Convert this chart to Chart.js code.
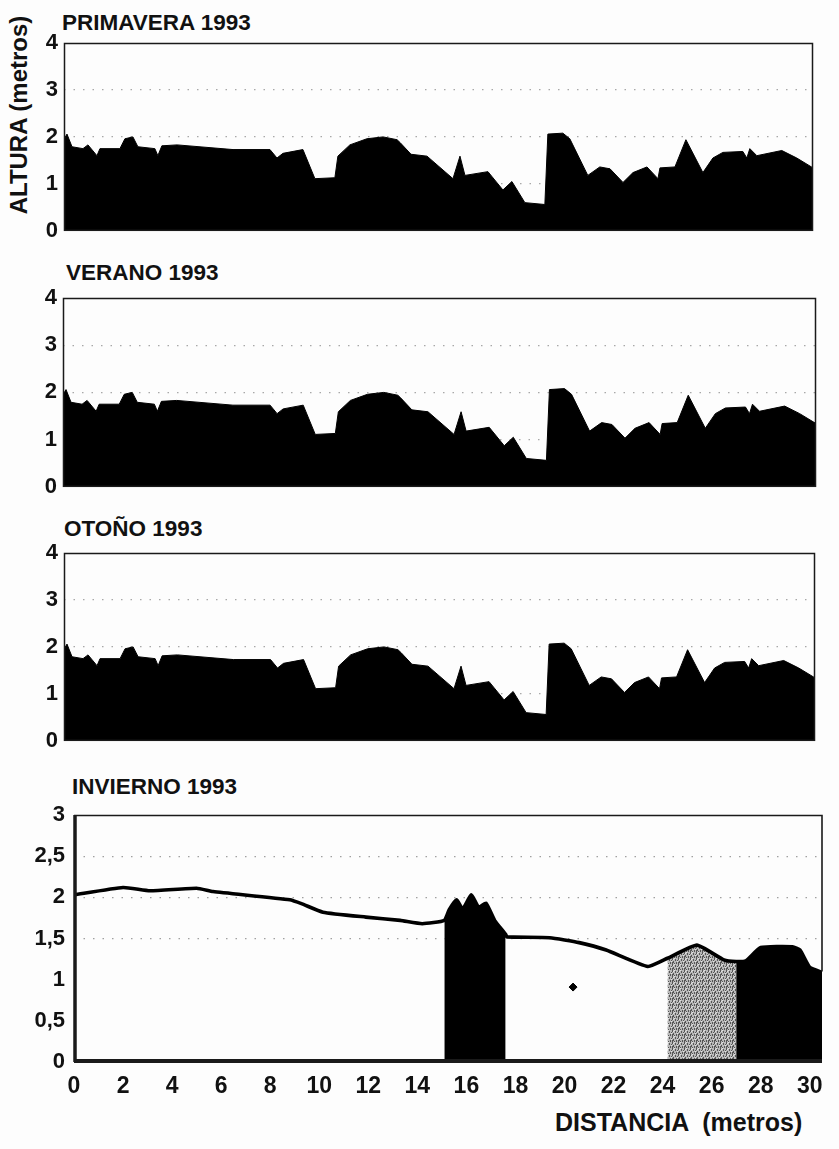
<!DOCTYPE html>
<html><head><meta charset="utf-8">
<script src="https://cdn.jsdelivr.net/npm/chart.js@4/dist/chart.umd.min.js"></script>
<style>
html,body{margin:0;padding:0;background:#fff;}
#root{position:relative;width:839px;height:1149px;overflow:hidden;font-family:"Liberation Sans",Arial,sans-serif;font-weight:bold;color:#111;background:#fdfdfd;}
.t{position:absolute;font-size:22.5px;line-height:1;white-space:pre;}
canvas{position:absolute;left:0;}
</style></head><body>
<div id="root">
  <div class="t" style="left:62px;top:12px">PRIMAVERA 1993</div>
  <div class="t" style="left:66px;top:262px">VERANO 1993</div>
  <div class="t" style="left:64px;top:518px">OTOÑO 1993</div>
  <div class="t" style="left:72px;top:776px">INVIERNO 1993</div>
  <div class="t" style="left:-111px;top:103px;width:260px;text-align:center;font-size:24px;transform:rotate(-90deg);">ALTURA (metros)</div>
  <div class="t" style="left:555px;top:1110px;font-size:25px;">DISTANCIA  (metros)</div>
  <canvas id="c1" width="839" height="250" style="top:0px"></canvas>
  <canvas id="c2" width="839" height="256" style="top:250px"></canvas>
  <canvas id="c3" width="839" height="254" style="top:506px"></canvas>
  <canvas id="c4" width="839" height="389" style="top:760px"></canvas>
</div>
<script>
// ---- datos ----
const distanciaPerfil = [0,0.12,0.32,0.76,0.96,1.32,1.44,2.24,2.44,2.76,2.96,3.64,3.76,3.92,4.53,6.77,8.25,8.53,8.77,9.57,10.05,10.85,10.97,11.45,12.13,12.78,13.34,13.46,13.9,14.54,15.58,15.86,16.06,16.98,17.58,17.94,18.46,19.26,19.38,19.98,20.26,20.98,21.46,21.87,22.39,22.79,23.35,23.79,23.87,24.47,24.91,25.59,25.99,26.39,27.19,27.35,27.47,27.75,28.75,29.35,30.0];
const alturaPrimavera = [1.95,2.06,1.79,1.75,1.83,1.60,1.75,1.75,1.96,2.00,1.79,1.75,1.60,1.81,1.83,1.73,1.73,1.55,1.65,1.73,1.11,1.13,1.59,1.83,1.96,2.00,1.94,1.88,1.63,1.59,1.11,1.59,1.18,1.26,0.87,1.05,0.60,0.56,2.06,2.08,1.96,1.18,1.36,1.32,1.03,1.24,1.36,1.11,1.34,1.36,1.94,1.24,1.55,1.67,1.69,1.55,1.75,1.60,1.71,1.55,1.34];
const alturaVerano    = [1.95,2.06,1.79,1.75,1.83,1.60,1.75,1.75,1.96,2.00,1.79,1.75,1.60,1.81,1.83,1.73,1.73,1.55,1.65,1.73,1.11,1.13,1.59,1.83,1.96,2.00,1.94,1.88,1.63,1.59,1.11,1.59,1.18,1.26,0.87,1.05,0.60,0.56,2.06,2.08,1.96,1.18,1.36,1.32,1.03,1.24,1.36,1.11,1.34,1.36,1.94,1.24,1.55,1.67,1.69,1.55,1.75,1.60,1.71,1.55,1.34];
const alturaOtono     = [1.95,2.06,1.79,1.75,1.83,1.60,1.75,1.75,1.96,2.00,1.79,1.75,1.60,1.81,1.83,1.73,1.73,1.55,1.65,1.73,1.11,1.13,1.59,1.83,1.96,2.00,1.94,1.88,1.63,1.59,1.11,1.59,1.18,1.26,0.87,1.05,0.60,0.56,2.06,2.08,1.96,1.18,1.36,1.32,1.03,1.24,1.36,1.11,1.34,1.36,1.94,1.24,1.55,1.67,1.69,1.55,1.75,1.60,1.71,1.55,1.34];

const distanciaInvierno = [0,2.0,3.1,5.0,5.67,8.8,9.3,10.15,11.9,13.3,14.2,15.1,15.3,15.6,15.85,16.2,16.5,16.8,17.15,17.6,17.65,19.4,20.6,21.7,23.4,24.2,25.4,26.5,27.0,27.4,28.0,29.3,29.6,30.0,30.5];
const alturaInvierno    = [2.03,2.12,2.08,2.11,2.07,1.97,1.92,1.82,1.76,1.72,1.68,1.72,1.85,1.97,1.86,2.03,1.88,1.93,1.72,1.55,1.52,1.51,1.45,1.36,1.16,1.26,1.42,1.24,1.22,1.23,1.39,1.40,1.36,1.15,1.09];
const tramosNegrosInvierno = [[15.1,17.6],[27.0,30.5]];
const tramoGrisInvierno = [24.2,27.0];
const marcaX = [20.35];
const marcaY = [0.91];

const ticksY = [0,1,2,3,4];
const ticksYInvierno = [0,0.5,1,1.5,2,2.5,3];
const ticksX = [0,2,4,6,8,10,12,14,16,18,20,22,24,26,28,30];
const lineasGuia = [1,2,3];
const lineasGuiaInvierno = [1.5,2,2.5];

// ---- utilidades ----
const FONT = '"Liberation Sans", Arial, sans-serif';
const pts = (xs, ys) => xs.map((x,i)=>({x:x,y:ys[i]}));
const tramo = (xs, ys, a, b) => pts(xs, ys).filter(p => p.x >= a - 1e-9 && p.x <= b + 1e-9);

function marco(opts){
  return {
    id:'marco',
    afterDatasetsDraw(chart){
      const {ctx, chartArea:a} = chart;
      ctx.save();
      ctx.strokeStyle = '#1a1a1a';
      if(opts.invierno){
        ctx.lineWidth = 1.6;
        ctx.beginPath(); ctx.moveTo(a.left, a.top+0.5); ctx.lineTo(a.right, a.top+0.5); ctx.lineTo(a.right, chart.scales.y.getPixelForValue(1.1)); ctx.stroke();
        ctx.lineWidth = 3.5;
        ctx.beginPath(); ctx.moveTo(a.left+1, a.top); ctx.lineTo(a.left+1, a.bottom); ctx.stroke();
        ctx.lineWidth = 4;
        ctx.beginPath(); ctx.moveTo(a.left, a.bottom-1); ctx.lineTo(a.right, a.bottom-1); ctx.stroke();
      } else {
        ctx.lineWidth = 1.5;
        ctx.strokeRect(a.left+0.5, a.top+0.5, a.right-a.left-1, a.bottom-a.top-1);
      }
      ctx.restore();
    }
  };
}

function panel(id, ys, box){
  const ctx = document.getElementById(id);
  return new Chart(ctx, {
    type:'line',
    data:{datasets:[{
      data: pts(distanciaPerfil, ys),
      borderColor:'#000', borderWidth:1, backgroundColor:'#000',
      fill:'origin', pointRadius:0, tension:0
    }]},
    options:{
      responsive:false, animation:false, events:[],
      layout:{padding:{top:box.top, bottom:box.bottom, right:box.right, left:0}},
      plugins:{legend:{display:false}, tooltip:{enabled:false}},
      scales:{
        x:{type:'linear', min:0, max:30, display:false},
        y:{min:0, max:4,
           afterFit:s=>{s.width = box.left;},
           afterBuildTicks:s=>{s.ticks = ticksY.map(v=>({value:v}));},
           grid:{drawTicks:false, lineWidth:1.3, color:c=> lineasGuia.includes(c.tick && c.tick.value) ? '#a8a8a8' : 'rgba(0,0,0,0)'},
           border:{display:false, dash:[1.5,8]},
           ticks:{padding:6, color:'#111', font:{family:FONT, size:22, weight:'bold'}}
        }
      }
    },
    plugins:[marco({})]
  });
}

panel('c1', alturaPrimavera, {top:43, bottom:13, right:26, left:64});
panel('c2', alturaVerano,    {top:48, bottom:12, right:23, left:63});
panel('c3', alturaOtono,     {top:47, bottom:14, right:24, left:64});

// patrón punteado gris
function patron(){
  const c = document.createElement('canvas'); c.width = 6; c.height = 6;
  const g = c.getContext('2d');
  g.fillStyle = '#b8b8b8'; g.fillRect(0,0,6,6);
  g.fillStyle = '#555';
  [[0,0],[3,1],[1,3],[4,4],[2,5],[5,2],[0,4]].forEach(([x,y])=>g.fillRect(x,y,1,2));
  g.fillStyle = '#e2e2e2';
  [[2,0],[5,3],[1,1]].forEach(([x,y])=>g.fillRect(x,y,1,1));
  return g.createPattern(c,'repeat');
}

const dsInvierno = [
  {data: pts(distanciaInvierno, alturaInvierno), borderColor:'#000', borderWidth:3.6, fill:false, pointRadius:0, tension:0.15},
  {type:'scatter', data: pts(marcaX, marcaY), pointRadius:4, pointStyle:'rectRot', backgroundColor:'#000', borderColor:'#000'}
];
tramosNegrosInvierno.forEach(([a,b])=>{
  dsInvierno.push({data: tramo(distanciaInvierno, alturaInvierno, a, b), borderColor:'#000', borderWidth:1, backgroundColor:'#000', fill:'origin', pointRadius:0, tension:0});
});
dsInvierno.push({data: tramo(distanciaInvierno, alturaInvierno, tramoGrisInvierno[0], tramoGrisInvierno[1]), borderColor:'rgba(0,0,0,0)', borderWidth:0, backgroundColor:patron(), fill:'origin', pointRadius:0, tension:0});

new Chart(document.getElementById('c4'), {
  type:'line',
  data:{datasets: dsInvierno},
  options:{
    responsive:false, animation:false, events:[],
    layout:{padding:{top:55, bottom:47, right:17, left:0}},
    plugins:{legend:{display:false}, tooltip:{enabled:false}},
    scales:{
      x:{type:'linear', min:0, max:30.5,
         afterFit:s=>{s.height = 40;},
         afterBuildTicks:s=>{s.ticks = ticksX.map(v=>({value:v}));},
         grid:{display:false}, border:{display:false},
         ticks:{padding:3, color:'#111', maxRotation:0, autoSkip:false, font:{family:FONT, size:23, weight:'bold'}}
      },
      y:{min:0, max:3,
         afterFit:s=>{s.width = 74;},
         afterBuildTicks:s=>{s.ticks = ticksYInvierno.map(v=>({value:v}));},
         grid:{drawTicks:false, lineWidth:1.3, color:c=> lineasGuiaInvierno.includes(c.tick && c.tick.value) ? '#a0a0a0' : 'rgba(0,0,0,0)'},
         border:{display:false, dash:[1.5,8]},
         ticks:{padding:9, color:'#111', font:{family:FONT, size:22, weight:'bold'}, callback:v=>String(v).replace('.', ',')}
      }
    }
  },
  plugins:[marco({invierno:true})]
});
</script>
</body></html>
